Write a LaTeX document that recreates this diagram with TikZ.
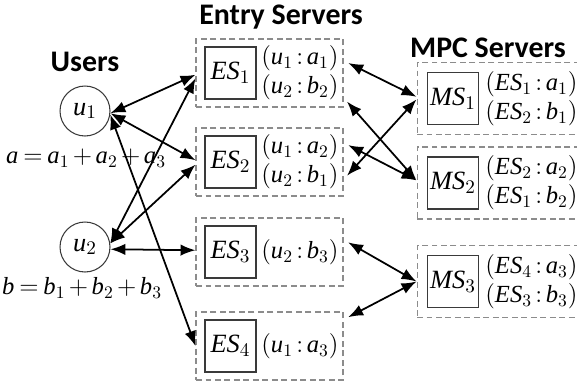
\documentclass[tikz,border=0pt]{standalone}
\usepackage{amsmath}
\usepackage{fontspec}
\setmainfont{Liberation Serif}
\newfontfamily\headfont{Carlito}
\usetikzlibrary{arrows.meta}
\definecolor{DashGray}{HTML}{8C8C8C}
\definecolor{BoxDark}{HTML}{3A3A3A}
% italic letters in the main (Times-like) face
\newcommand{\mv}[1]{\textit{#1}}
\newcommand{\tightops}{\medmuskip=2.5mu\relax\thickmuskip=3.5mu\relax}
% one share: (holder : value)
\newcommand{\pair}[2]{$\thickmuskip=2.5mu\relax(#1:#2)$}

\begin{document}
\begin{tikzpicture}[x=0.02cm,y=-0.02cm,>={Latex[length=8.5pt,width=6.5pt]},
  user/.style={circle,draw=BoxDark,line width=0.6pt,minimum size=1cm,inner sep=0pt,font=\fontsize{15}{18}\selectfont},
  group/.style={draw=DashGray,dash pattern=on 3.4pt off 2pt,line width=0.6pt},
  server/.style={draw=BoxDark,line width=0.8pt,minimum width=1.02cm,minimum height=1.04cm,inner sep=0pt,font=\fontsize{15}{18}\selectfont},
  title/.style={font=\headfont\bfseries\fontsize{17}{20}\selectfont},
  share/.style={anchor=west,align=left,inner sep=0pt,font=\fontsize{14}{16.5}\selectfont},
  sum/.style={font=\fontsize{14}{16}\selectfont},
  link/.style={<->,line width=1pt}]
\useasboundingbox (0,0) rectangle (577,386);
\clip (0,0) rectangle (577,386);
% column titles
\node[title] (tusers) at (85,62) {Users};
\node[title] (tentry) at (281,17) {Entry Servers};
\node[title] (tmpc) at (488,48) {MPC Servers};
% users and their secrets
\node[user] (u1) at (85,111) {$\mv{u}_1$};
\node[user] (u2) at (85,247) {$\mv{u}_2$};
\node[sum] (sa) at (86,158) {$\tightops\mv{a}=\mv{a}_1+\mv{a}_2+\mv{a}_3$};
\node[sum] (sb) at (82,288) {$\tightops\mv{b}=\mv{b}_1+\mv{b}_2+\mv{b}_3$};
% entry servers
\foreach \i/\yy/\shares in {1/73/{\pair{\mv{u}_1}{\mv{a}_1}\\\pair{\mv{u}_2}{\mv{b}_2}},2/162/{\pair{\mv{u}_1}{\mv{a}_2}\\\pair{\mv{u}_2}{\mv{b}_1}},3/252/{\pair{\mv{u}_2}{\mv{b}_3}},4/346/{\pair{\mv{u}_1}{\mv{a}_3}}}{
  \node[group,minimum width=2.94cm,minimum height=1.36cm] (es\i) at (269.5,\yy) {};
  \node[server] (esb\i) at (230.5,\yy) {$\mv{ES}_\i$};
  \node[share] (esl\i) at (261,\yy) {\shares};
}
% mpc servers
\foreach \i/\yy/\shares in {1/98.5/{\pair{\mv{ES}_1}{\mv{a}_1}\\\pair{\mv{ES}_2}{\mv{b}_1}},2/183/{\pair{\mv{ES}_2}{\mv{a}_2}\\\pair{\mv{ES}_1}{\mv{b}_2}},3/281.5/{\pair{\mv{ES}_4}{\mv{a}_3}\\\pair{\mv{ES}_3}{\mv{b}_3}}}{
  \node[group,minimum width=3.66cm,minimum height=1.44cm] (ms\i) at (508.5,\yy) {};
  \node[server] (msb\i) at (453,\yy) {$\mv{MS}_\i$};
  \node[share] (msl\i) at (485,\yy) {\shares};
}
% users to entry servers
\draw[link] (u1.-5) -- ([yshift=-1pt]es1.west);
\draw[link] (u1.-5) -- ([yshift=1pt]es2.west);
\draw[link] (u1.-8) -- (es4.west);
\draw[link] (u2.8) -- ([yshift=-3pt]es1.west);
\draw[link] (u2.8) -- ([yshift=-1.5pt]es2.west);
\draw[link] (u2.-5) -- ([yshift=1pt]es3.west);
% entry servers to mpc servers
\draw[link,shorten <=3pt] ([yshift=7pt]es1.east) -- ([yshift=1pt]ms1.west);
\draw[link,shorten <=3pt] ([yshift=-14pt]es1.east) -- ([yshift=1.5pt]ms2.west);
\draw[link,shorten <=3pt] ([yshift=11pt]es2.east) -- ([yshift=1.5pt]ms2.west);
\draw[link,shorten <=3pt] ([yshift=-10pt]es2.east) -- ([yshift=-0.5pt]ms1.west);
\draw[link,shorten <=3pt] ([yshift=7pt]es3.east) -- (ms3.west);
\draw[link,shorten <=3pt] ([yshift=15pt]es4.east) -- (ms3.west);
\end{tikzpicture}
\end{document}
